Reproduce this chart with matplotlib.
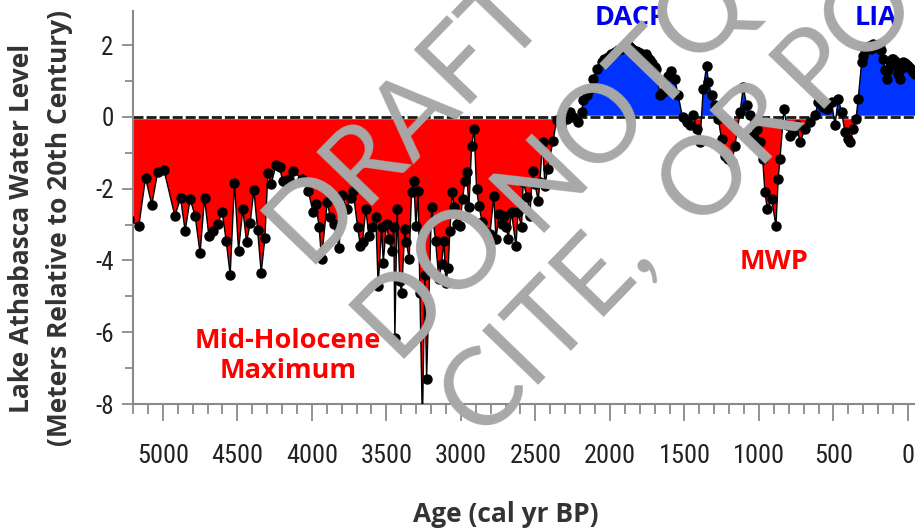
import numpy as np
import matplotlib
matplotlib.use("Agg")
import matplotlib.pyplot as plt
from matplotlib import font_manager
from matplotlib.ticker import MultipleLocator

# Lake Athabasca water level reconstruction
age = [5230, 5161, 5116, 5074, 5034, 4993, 4919, 4881, 4850, 4817, 4783, 4750,
       4720, 4691, 4664, 4631, 4602, 4575, 4548, 4519, 4492, 4463, 4438, 4414,
       4389, 4364, 4340, 4315, 4295, 4273, 4240, 4217, 4195, 4173, 4150, 4126,
       4069, 4025, 3991, 3973, 3951, 3935, 3897, 3875, 3853, 3817, 3797, 3767,
       3740, 3723, 3693, 3674, 3660, 3638, 3618, 3595, 3571, 3555, 3532, 3521,
       3499, 3483, 3465, 3450, 3443, 3428, 3410, 3398, 3376, 3365, 3347, 3331,
       3316, 3302, 3287, 3275, 3258, 3242, 3230, 3197, 3170, 3148, 3130, 3114,
       3101, 3085, 3074, 3058, 3045, 3025, 3007, 2989, 2973, 2962, 2946, 2928,
       2911, 2895, 2879, 2857, 2834, 2805, 2779, 2765, 2743, 2727, 2712, 2694,
       2683, 2660, 2631, 2616, 2593, 2582, 2555, 2537, 2519, 2503, 2481, 2470,
       2452, 2436, 2418, 2381, 2358, 2325, 2291, 2269, 2246, 2213, 2190, 2179,
       2157, 2134, 2112, 2090, 2056, 2040, 2012, 1990, 1967, 1945, 1922, 1905,
       1889, 1878, 1866, 1855, 1844, 1827, 1811, 1800, 1788, 1770, 1755, 1744,
       1732, 1720, 1710, 1698, 1688, 1665, 1643, 1610, 1587, 1565, 1542, 1513,
       1486, 1464, 1441, 1418, 1396, 1374, 1351, 1340, 1318, 1296, 1273, 1251,
       1228, 1206, 1183, 1161, 1127, 1105, 1083, 1060, 1038, 1016, 993, 975,
       960, 944, 915, 886, 871, 859, 832, 814, 792, 770, 747, 725, 691, 658,
       624, 602, 568, 546, 512, 490, 468, 445, 423, 401, 390, 367, 349, 334,
       311, 300, 289, 278, 265, 255, 245, 232, 220, 210, 200, 188, 178, 166,
       155, 143, 132, 121, 110, 99, 88, 76, 65, 54, 43, 32, 20, 10, -2, -15,
       -25, -36, -47]
level = [-2.85, -3.04, -1.70, -2.45, -1.53, -1.47, -2.76, -2.26, -3.18, -2.29, -2.76, -3.80,
         -2.26, -3.33, -3.18, -2.99, -2.64, -3.45, -4.40, -1.84, -3.73, -2.57, -3.50, -2.96,
         -2.04, -3.15, -4.34, -3.38, -1.57, -1.87, -1.34, -1.41, -1.78, -1.84, -1.73, -1.50,
         -1.73, -2.06, -2.66, -2.43, -3.08, -3.97, -2.38, -2.80, -2.99, -3.64, -2.18, -2.57,
         -2.27, -2.06, -3.08, -3.59, -3.48, -2.57, -3.31, -3.08, -2.80, -4.71, -3.08, -4.06,
         -2.99, -3.41, -3.73, -3.08, -6.15, -2.57, -4.57, -4.90, -3.13, -3.50, -3.97, -2.10,
         -1.78, -3.04, -2.06, -4.90, -8.60, -4.40, -7.30, -2.52, -3.45, -4.52, -4.11, -3.45,
         -4.62, -4.20, -3.18, -2.09, -2.52, -2.99, -3.04, -2.29, -1.78, -1.55, -2.52, -0.80,
         -0.35, -2.01, -2.48, -2.94, -3.22, -3.27, -2.20, -3.41, -2.71, -2.99, -2.76, -3.08,
         -3.41, -2.66, -3.59, -2.66, -3.08, -1.82, -2.24, -2.76, -1.50, -1.87, -2.34, -1.82,
         -0.71, -1.92, -1.45, -0.66, -0.10, -0.24, -0.06, 0.13, -0.01, -0.15, 0.13, 0.46,
         0.60, 0.78, 1.06, 1.34, 1.53, 1.60, 1.67, 1.75, 1.81, 1.85, 1.90, 1.97,
         2.04, 2.00, 1.95, 1.90, 1.85, 1.83, 1.81, 1.78, 1.71, 1.73, 1.76, 1.65,
         1.57, 1.50, 1.43, 1.38, 1.34, 0.60, 0.69, 1.15, 1.29, 1.06, 0.60, -0.01,
         -0.15, -0.24, 0.04, -0.34, -0.71, 0.78, 1.43, 0.97, 0.60, 0.32, -0.06, -0.62,
         -1.08, -1.17, -1.27, -0.80, 0.13, 0.83, 0.32, 0.04, -0.52, -0.34, -0.71, -1.17,
         -2.10, -2.57, -2.29, -3.04, -1.73, -1.17, 0.22, -0.24, -0.52, -0.43, -0.24, -0.71, -0.34, -0.15,
         0.04, 0.41, 0.27, 0.22, 0.41, -0.24, 0.50, 0.13, -0.43, -0.62, -0.71, -0.34, -0.06, 0.50,
         1.53, 1.70, 1.85, 1.90, 1.98, 1.95, 1.90, 2.02, 1.95, 2.00, 2.00, 2.04, 1.85, 1.62,
         1.30, 1.06, 1.30, 1.53, 1.60, 1.62, 1.55, 1.43, 1.20, 1.06, 1.35, 1.53, 1.50, 1.45, 1.43, 1.35,
         1.30, 1.25, 1.20]

x_ticks = [5000, 4500, 4000, 3500, 3000, 2500, 2000, 1500, 1000, 500, 0]
y_ticks = [-8, -6, -4, -2, 0, 2]

age = np.array(age, dtype=float)
level = np.array(level, dtype=float)

names = {f.name for f in font_manager.fontManager.ttflist}
narrow = [n for n in ("Liberation Sans Narrow", "Roboto Condensed", "Open Sans Condensed")
          if n in names]
tick_font = narrow[0] if narrow else "DejaVu Sans"
bold_font = ["Open Sans", "DejaVu Sans"]
wm_font = "Lato" if "Lato" in names else "DejaVu Sans"

W, H = 915, 529
fig = plt.figure(figsize=(W / 100, H / 100), dpi=100)
ax = fig.add_axes([133 / W, 1 - 404 / H, 1 - 133 / W, (404 - 10.6) / H])

ax.fill_between(age, level, 0, where=level <= 0, interpolate=True,
                color="#ff0000", lw=0, zorder=1)
ax.fill_between(age, level, 0, where=level >= 0, interpolate=True,
                color="#0033ff", lw=0, zorder=1)
ax.axhline(0, color="white", lw=2.5, zorder=2)
ax.axhline(0, color="#1a1a1a", lw=2, dashes=(3.6, 1.1), zorder=2)
ax.plot(age, level, color="black", lw=1, marker="o", ms=6.5, zorder=4)

ax.set_xlim(5200, -47)
ax.set_ylim(-8, 2.96)

for s in ("top", "right"):
    ax.spines[s].set_visible(False)
for s in ("left", "bottom"):
    ax.spines[s].set_color("#8a8a8a")
    ax.spines[s].set_linewidth(1.5)

ax.set_xticks(x_ticks)
ax.set_xticklabels([str(t) for t in x_ticks])
ax.xaxis.set_minor_locator(MultipleLocator(100))
ax.set_yticks(y_ticks)
ax.set_yticklabels([str(t) for t in y_ticks])
ax.yaxis.set_minor_locator(MultipleLocator(1))

ax.tick_params(axis="x", which="major", length=12, width=1.3, color="#8a8a8a",
               pad=17, labelsize=19, labelcolor="#222222")
ax.tick_params(axis="x", which="minor", length=7, width=1.3, color="#8a8a8a")
ax.tick_params(axis="y", which="major", length=8, width=1.3, color="#8a8a8a",
               pad=6, labelsize=18, labelcolor="#222222")
ax.tick_params(axis="y", which="minor", length=6, width=1.3, color="#8a8a8a")
for lab in ax.get_xticklabels() + ax.get_yticklabels():
    lab.set_family(tick_font)
    lab.set_stretch("condensed")

# period labels (pixel positions from the top-left corner)
lab_kw = dict(fontsize=19.5, fontweight="bold", family=bold_font, ha="center", va="center")
fig.text(631 / W, 1 - 18 / H, "DACP", color="#0000ee", **lab_kw)
fig.text(876 / W, 1 - 18 / H, "LIA", color="#0000ee", **lab_kw)
fig.text(774 / W, 1 - 262 / H, "MWP", color="#ff0000", **lab_kw)
fig.text(288 / W, 1 - 356 / H, "Mid-Holocene\nMaximum", color="#ff0000",
         linespacing=1.15, **lab_kw)

# axis titles
ttl_kw = dict(fontsize=19, fontweight="bold", family=bold_font, color="#333333",
              ha="center", va="center")
fig.text(22 / W, 1 - 228 / H, "Lake Athabasca Water Level", rotation=90, **ttl_kw)
fig.text(60 / W, 1 - 228 / H, "(Meters Relative to 20th Century)", rotation=90, **ttl_kw)
fig.text(506 / W, 1 - 515 / H, "Age (cal yr BP)", **ttl_kw)

# draft watermark, placed word by word (start pixel of each word)
wm_kw = dict(fontsize=78, color="#a8a8a8", rotation=46, rotation_mode="anchor",
             ha="left", va="center", family=wm_font, fontweight="normal", zorder=20)
wm_words = [("DRAFT", 284, 243), ("DO", 372, 338), ("NOT", 512, 212),
            ("QUOTE,", 672, 45), ("CITE,", 458, 418), ("OR", 676, 208),
            ("POST", 792, 88)]
for word, px, py in wm_words:
    fig.text(px / W, 1 - py / H, word, **wm_kw)

fig.savefig("out.png", dpi=100)
